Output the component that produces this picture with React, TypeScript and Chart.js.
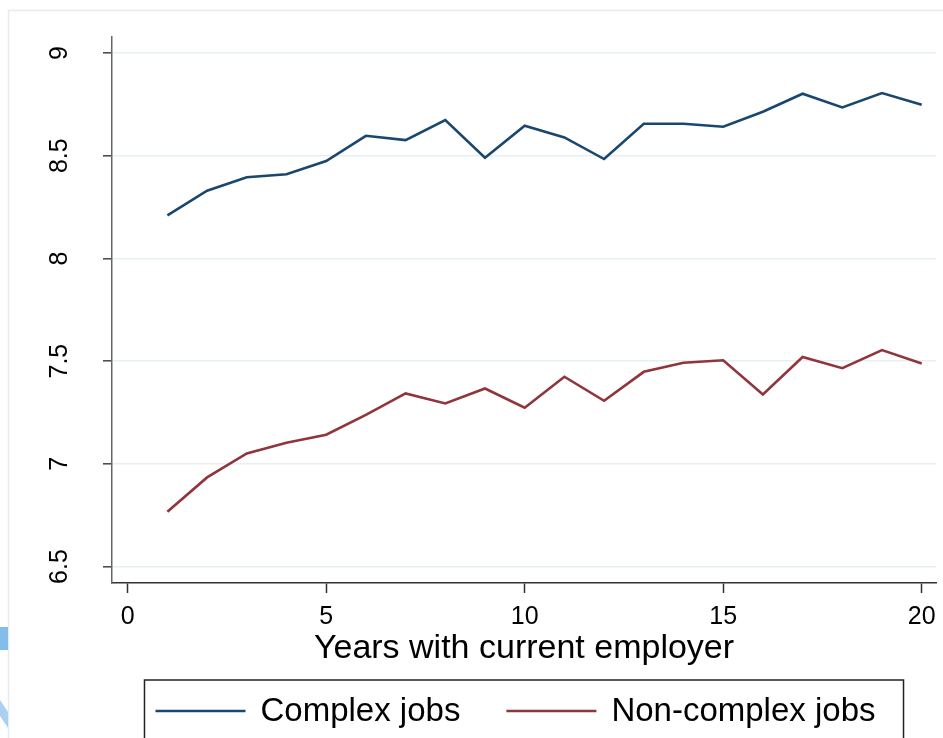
import React, { useEffect, useRef } from "react";
import { Chart, registerables } from "chart.js";

Chart.register(...registerables);

// ---- data ----
const YEARS = [1, 2, 3, 4, 5, 6, 7, 8, 9, 10, 11, 12, 13, 14, 15, 16, 17, 18, 19, 20];
const COMPLEX = [8.21, 8.33, 8.395, 8.41, 8.474, 8.597, 8.576, 8.674, 8.49, 8.646, 8.589, 8.484, 8.656, 8.656, 8.641, 8.714, 8.802, 8.735, 8.805, 8.748];
const NONCOMPLEX = [6.767, 6.934, 7.051, 7.103, 7.142, 7.238, 7.343, 7.294, 7.367, 7.273, 7.424, 7.307, 7.448, 7.492, 7.504, 7.338, 7.52, 7.466, 7.554, 7.489];
const X_TICKS = [0, 5, 10, 15, 20];
const Y_TICKS = [6.5, 7, 7.5, 8, 8.5, 9];
const SERIES_LABELS = ["Complex jobs", "Non-complex jobs"];
const SERIES_COLORS = ["#1a476f", "#90353b"];
const X_TITLE = "Years with current employer";

const FONT = '"Liberation Sans", Arial, Helvetica, sans-serif';

const framePlugin = {
  id: "stataFrame",
  beforeDraw(chart: any) {
    const ctx = chart.ctx;
    ctx.save();
    ctx.fillStyle = "#ffffff";
    ctx.fillRect(0, 0, chart.width, chart.height);
    ctx.strokeStyle = "#e4ecef";
    ctx.lineWidth = 1.5;
    ctx.beginPath();
    ctx.moveTo(8.5, chart.height);
    ctx.lineTo(8.5, 10.5);
    ctx.lineTo(chart.width, 10.5);
    ctx.stroke();
    // small artifact at left edge
    ctx.fillStyle = "#84bde9";
    ctx.fillRect(0, 627, 8, 23);
    ctx.fillStyle = "#a9d0ef";
    ctx.beginPath();
    ctx.moveTo(0, 700);
    ctx.lineTo(8, 712);
    ctx.lineTo(8, 728);
    ctx.lineTo(0, 716);
    ctx.closePath();
    ctx.fill();
    ctx.restore();
  },
};

const legendPlugin = {
  id: "stataLegend",
  afterDraw(chart: any) {
    const ctx = chart.ctx;
    const area = chart.chartArea;
    ctx.save();
    ctx.font = `33px ${FONT}`;
    const lineLen = 90;
    const gapText = 15;
    const gapItem = 46;
    const padL = 11;
    const padR = 28;
    const items = chart.data.datasets.map((ds: any) => ({
      text: ds.label,
      color: ds.borderColor,
      w: ctx.measureText(ds.label).width,
    }));
    let content = 0;
    items.forEach((it: any, i: number) => {
      content += lineLen + gapText + it.w + (i > 0 ? gapItem : 0);
    });
    const boxW = content + padL + padR;
    const cx = (area.left + area.right) / 2;
    const left = cx - boxW / 2;
    const top = area.bottom + 97;
    ctx.strokeStyle = "#222";
    ctx.lineWidth = 1.5;
    ctx.strokeRect(left, top, boxW, 120);
    let x = left + padL;
    const y = top + 31;
    items.forEach((it: any, i: number) => {
      if (i > 0) x += gapItem;
      ctx.strokeStyle = it.color;
      ctx.lineWidth = 2.5;
      ctx.beginPath();
      ctx.moveTo(x, y);
      ctx.lineTo(x + lineLen, y);
      ctx.stroke();
      x += lineLen + gapText;
      ctx.fillStyle = "#000";
      ctx.textBaseline = "middle";
      ctx.textAlign = "left";
      ctx.fillText(it.text, x, y + 1);
      x += it.w;
    });
    ctx.restore();
  },
};

export default function App() {
  const ref = useRef<HTMLCanvasElement | null>(null);

  useEffect(() => {
    if (!ref.current) return;
    const chart = new Chart(ref.current, {
      type: "line",
      data: {
        datasets: [
          {
            label: SERIES_LABELS[0],
            data: YEARS.map((x, i) => ({ x, y: COMPLEX[i] })),
            borderColor: SERIES_COLORS[0],
            backgroundColor: SERIES_COLORS[0],
            borderWidth: 2.6,
            pointRadius: 0,
            tension: 0,
          },
          {
            label: SERIES_LABELS[1],
            data: YEARS.map((x, i) => ({ x, y: NONCOMPLEX[i] })),
            borderColor: SERIES_COLORS[1],
            backgroundColor: SERIES_COLORS[1],
            borderWidth: 2.6,
            pointRadius: 0,
            tension: 0,
          },
        ],
      },
      options: {
        responsive: false,
        animation: false,
        devicePixelRatio: 1,
        layout: { padding: { left: 0, right: 7, top: 37, bottom: 69 } },
        plugins: {
          legend: { display: false },
          tooltip: { enabled: false },
        },
        scales: {
          x: {
            type: "linear",
            min: -0.395,
            max: 20.36,
            afterBuildTicks: (scale: any) => {
              scale.ticks = X_TICKS.map((v) => ({ value: v }));
            },
            afterFit: (scale: any) => {
              scale.height = 86;
              scale.paddingLeft = 0;
              scale.paddingRight = 0;
            },
            grid: {
              drawOnChartArea: false,
              drawTicks: true,
              tickLength: 10,
              tickColor: "#333",
              tickWidth: 1.5,
            },
            border: { display: true, color: "#333", width: 1.5 },
            ticks: {
              autoSkip: false,
              maxRotation: 0,
              minRotation: 0,
              padding: 9,
              color: "#000",
              font: { family: FONT, size: 25 },
            },
            title: {
              display: true,
              text: X_TITLE,
              color: "#000",
              padding: { top: 0, bottom: 0 },
              font: { family: FONT, size: 34 },
            },
          },
          y: {
            type: "linear",
            min: 6.42,
            max: 9.078,
            afterBuildTicks: (scale: any) => {
              scale.ticks = Y_TICKS.map((v) => ({ value: v }));
            },
            afterFit: (scale: any) => {
              scale.width = 112;
              scale.paddingTop = 0;
              scale.paddingBottom = 0;
            },
            grid: {
              color: "#e6f0f2",
              lineWidth: 1.6,
              drawTicks: true,
              tickLength: 9,
              tickColor: "#444",
              tickWidth: 1.5,
            },
            border: { display: true, color: "#666", width: 1.5 },
            ticks: {
              autoSkip: false,
              minRotation: 90,
              maxRotation: 90,
              crossAlign: "center",
              padding: 26,
              color: "#000",
              font: { family: FONT, size: 25 },
              callback: (v: any) => String(v),
            },
          },
        },
      },
      plugins: [framePlugin, legendPlugin],
    } as any);
    return () => chart.destroy();
  }, []);

  return (
    <div style={{ position: "fixed", left: 0, top: 0, width: 943, height: 738, background: "#fff" }}>
      <canvas ref={ref} width={943} height={738} style={{ display: "block" }} />
    </div>
  );
}
